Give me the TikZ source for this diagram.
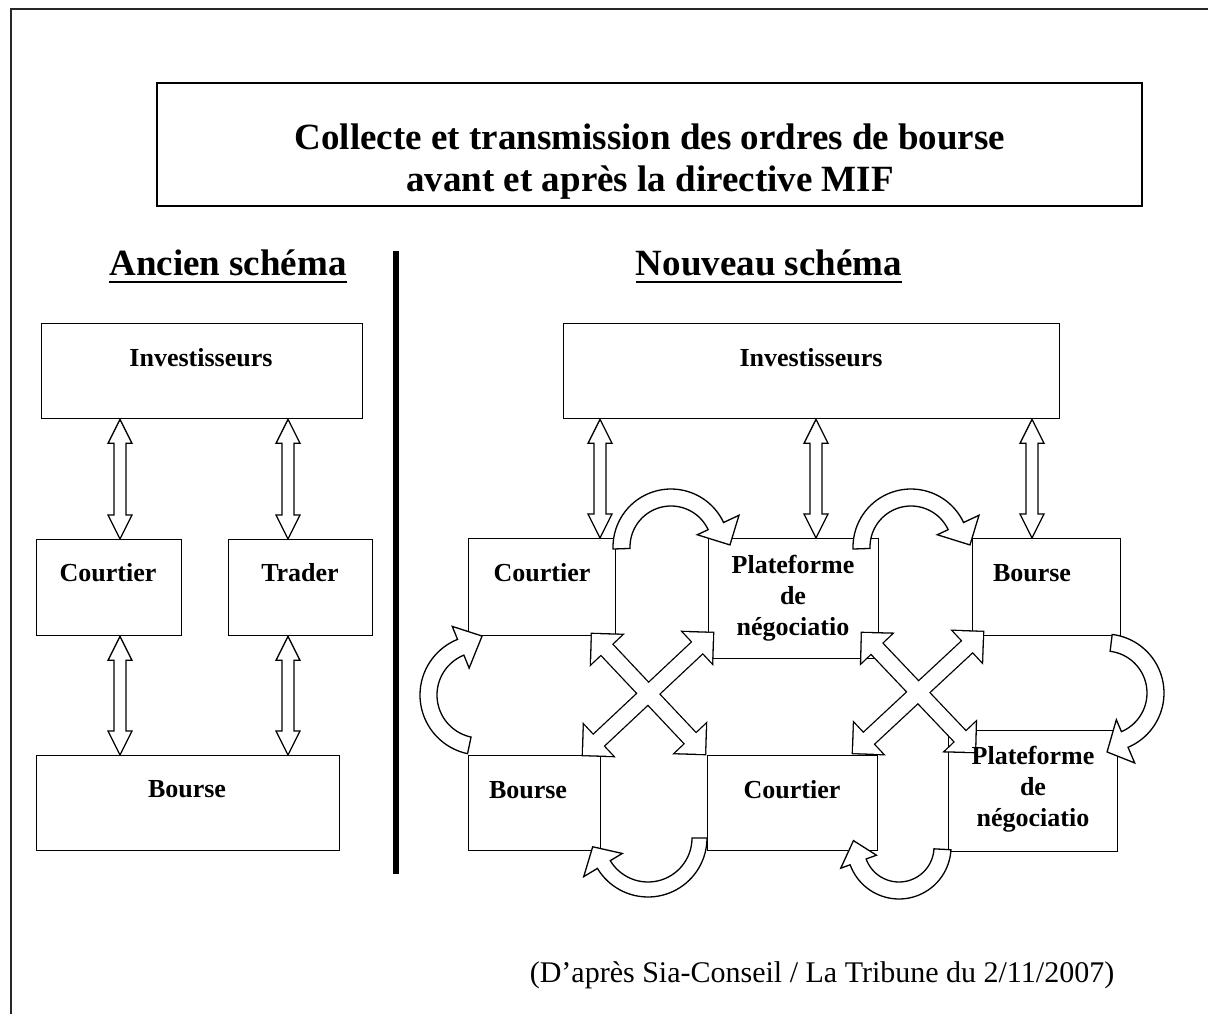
\documentclass[tikz,border=0pt]{standalone}
\usepackage{fontspec}
\setmainfont{Liberation Serif}
\usetikzlibrary{calc}
\tikzset{
  box/.style={draw,line width=1.3pt,fill=white,inner sep=0pt,anchor=north west},
  lbl/.style={font=\fontsize{26}{31}\selectfont\bfseries,align=center,inner sep=0pt},
  ttl/.style={font=\fontsize{37}{42}\selectfont\bfseries,align=center,inner sep=0pt},
  hd/.style={font=\fontsize{37}{44}\selectfont\bfseries,inner sep=0pt},
  ft/.style={font=\fontsize{30}{36}\selectfont,inner sep=0pt},
  blk/.style={draw,line width=1.3pt,fill=white,line join=miter},
  frm/.style={draw=black!85,line width=2pt},
}
% double block arrow outline: from, to, half shaft, half head, head length
\newcommand\dblpath[5]{(#1) -- ($(#1)!#5!(#2)!#4!90:(#2)$) -- ($(#1)!#5!(#2)!#3!90:(#2)$) -- ($(#2)!#5!(#1)!#3!-90:(#1)$) -- ($(#2)!#5!(#1)!#4!-90:(#1)$) -- (#2) -- ($(#2)!#5!(#1)!#4!90:(#1)$) -- ($(#2)!#5!(#1)!#3!90:(#1)$) -- ($(#1)!#5!(#2)!#3!-90:(#2)$) -- ($(#1)!#5!(#2)!#4!-90:(#2)$) -- cycle}
\newcommand\boxnode[5]{\node[box,minimum width=#4pt,minimum height=#5pt] (#1) at (#2,#3) {};}
\newcommand\xcross[4]{%
  \draw[line width=2.6pt,line join=miter] \dblpath{#1}{#2}{7.5pt}{21pt}{21pt} \dblpath{#3}{#4}{7.5pt}{21pt}{21pt};
  \fill[white] \dblpath{#1}{#2}{7.5pt}{21pt}{21pt} \dblpath{#3}{#4}{7.5pt}{21pt}{21pt};}
% curved block arrow: center, r in, r out, start angle, end angle, barb in, barb out, tip angle, tip radius
\newcommand\curvarr[9]{%
  \draw[blk,shift={(#1)}] (#4:#3) -- plot[domain=#4:#5,samples=40] (\x:#3) -- (#5:#7) -- (#8:#9) -- (#5:#6) -- plot[domain=#5:#4,samples=40] (\x:#2) -- cycle;}
\begin{document}
\begin{tikzpicture}[x=1pt,y=-1pt]
\fill[white] (0,0) rectangle (1208,1014);
\useasboundingbox (0,0) rectangle (1208,1014);
\draw[frm] (11,1014) -- (11,9.5) -- (1208,9.5);

% title
\node[box,line width=1.6pt,minimum width=985pt,minimum height=123pt] (tbox) at (156,82) {};
\node[ttl] (ttext) at (650,162) {Collecte et transmission des ordres de bourse\\avant et après la directive MIF};

% headings
\node[hd] (anc) at (228,263) {Ancien schéma};
\node[hd] (nouv) at (769,263) {Nouveau schéma};
\draw[line width=1.8pt] ($(anc.base west)+(0,6)$) -- ($(anc.base east)+(0,6)$);
\draw[line width=1.8pt] ($(nouv.base west)+(0,6)$) -- ($(nouv.base east)+(0,6)$);
\draw[line width=6pt] (396,251) -- (396,874);

% left scheme
\boxnode{linv}{41}{323}{321}{95}
\boxnode{lcour}{36}{539}{145}{96}
\boxnode{ltrad}{228}{539}{144}{96}
\boxnode{lbour}{36}{755}{303}{95}
\coordinate (xl1) at (120,0);
\coordinate (xl2) at (288,0);
\draw[blk] \dblpath{linv.south -| xl1}{lcour.north -| xl1}{6pt}{12pt}{24pt};
\draw[blk] \dblpath{linv.south -| xl2}{ltrad.north -| xl2}{6pt}{12pt}{24pt};
\draw[blk] \dblpath{lcour.south -| xl1}{lbour.north -| xl1}{6pt}{12pt}{24pt};
\draw[blk] \dblpath{ltrad.south -| xl2}{lbour.north -| xl2}{6pt}{12pt}{24pt};
\node[lbl] (linvt) at (201,358) {Investisseurs};
\node[lbl] (lcourt) at (108,573) {Courtier};
\node[lbl] (ltradt) at (300,573) {Trader};
\node[lbl] (lbourt) at (187,789) {Bourse};

% right scheme
\boxnode{rinv}{563}{323}{496}{95}
\boxnode{rcour}{468}{538}{147}{97}
\boxnode{rplat}{708}{538}{170}{120}
\boxnode{rbour}{972}{538}{148}{97}
\boxnode{rbourb}{468}{755}{132}{95}
\boxnode{rcourb}{707}{755}{170}{95}
\boxnode{rplatb}{948}{730}{169}{121}
\coordinate (xr1) at (600,0);
\coordinate (xr2) at (816,0);
\coordinate (xr3) at (1032,0);
\draw[blk] \dblpath{rinv.south -| xr1}{rcour.north -| xr1}{6pt}{12pt}{24pt};
\draw[blk] \dblpath{rinv.south -| xr2}{rplat.north -| xr2}{6pt}{12pt}{24pt};
\draw[blk] \dblpath{rinv.south -| xr3}{rbour.north -| xr3}{6pt}{12pt}{24pt};

% curved arrows
\curvarr{671,547}{41}{58}{178}{335}{29}{75}{358}{59}
\curvarr{911,547}{41}{58}{178}{335}{29}{75}{358}{59}
\curvarr{480,695}{43}{60}{102}{248}{29}{74}{272}{59}
\curvarr{1105,693}{42}{59}{-83}{67}{29}{76}{88}{59}
\curvarr{648,838}{44}{59}{0}{149}{30}{75}{171}{56}
\curvarr{899,847}{35}{52}{3}{160}{24}{62}{188}{46}

% crossing arrows
\coordinate (xa1) at (592,634); \coordinate (xa2) at (705,754);
\coordinate (xb1) at (713,633); \coordinate (xb2) at (583,755);
\coordinate (xc1) at (862,633); \coordinate (xc2) at (975,752);
\coordinate (xd1) at (983,632); \coordinate (xd2) at (853,753);
\xcross{xa1}{xa2}{xb1}{xb2}
\xcross{xc1}{xc2}{xd1}{xd2}

\node[lbl] (rinvt) at (811,358) {Investisseurs};
\node[lbl] (rcourt) at (542,573) {Courtier};
\node[lbl] (rplatt) at (793,598) {Plateforme\\de\\négociatio};
\node[lbl] (rbourt) at (1032,573) {Bourse};
\node[lbl] (rbourbt) at (528,790) {Bourse};
\node[lbl] (rcourbt) at (792,790) {Courtier};
\node[lbl] (rplatbt) at (1033,789) {Plateforme\\de\\négociatio};

% source
\node[ft] (src) at (822,975) {(D’après Sia-Conseil / La Tribune du 2/11/2007)};
\end{tikzpicture}
\end{document}
